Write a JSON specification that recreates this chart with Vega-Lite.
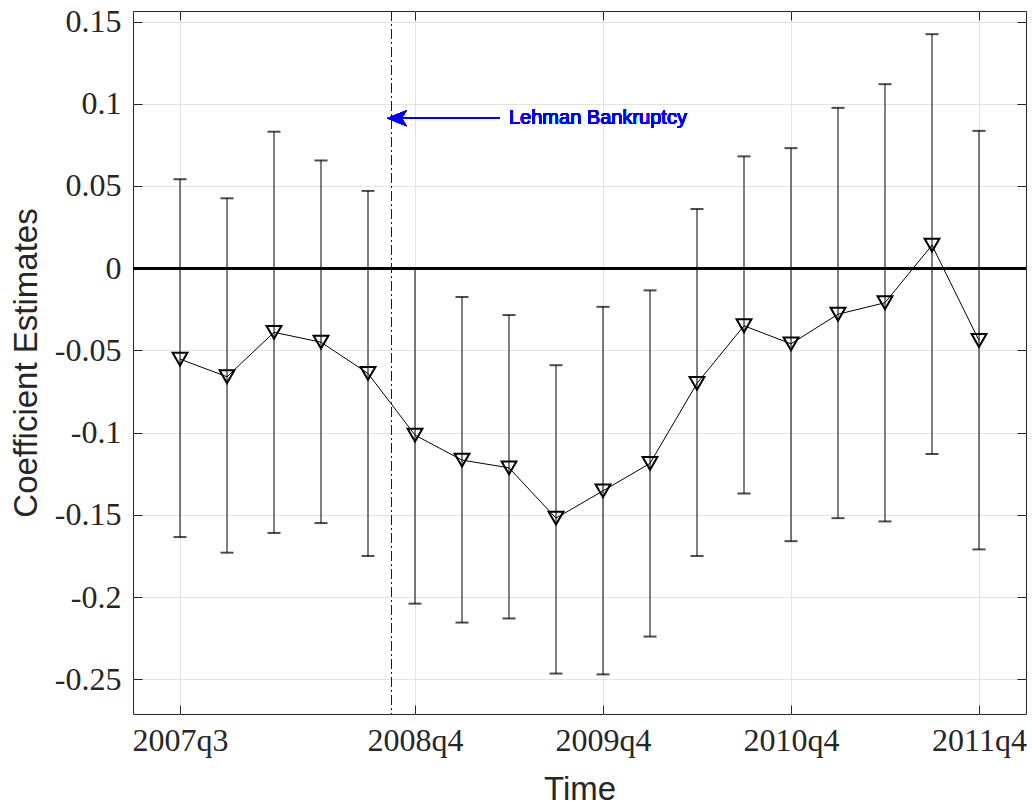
{
  "$schema": "https://vega.github.io/schema/vega-lite/v6.json",
  "autosize": {"type": "none"},
  "width": 893,
  "height": 703,
  "padding": {"left": 133, "top": 11, "right": 6, "bottom": 95},
  "background": "white",
  "config": {
    "view": {"stroke": "#262626", "strokeWidth": 1},
    "axis": {
      "domain": false,
      "tickColor": "#262626",
      "tickWidth": 1,
      "labelColor": "#262626",
      "labelFont": "Liberation Serif",
      "labelFontSize": 32,
      "titleFont": "Liberation Sans",
      "titleFontWeight": "normal",
      "titleFontSize": 33,
      "titleColor": "#262626",
      "gridColor": "#e3e3e3",
      "gridWidth": 1
    }
  },
  "data": {
    "values": [
      {"t": 0, "est": -0.0553, "lo": -0.1635, "hi": 0.0541},
      {"t": 1, "est": -0.066, "lo": -0.173, "hi": 0.0425},
      {"t": 2, "est": -0.039, "lo": -0.161, "hi": 0.083},
      {"t": 3, "est": -0.045, "lo": -0.155, "hi": 0.0655},
      {"t": 4, "est": -0.064, "lo": -0.175, "hi": 0.047},
      {"t": 5, "est": -0.1015, "lo": -0.204, "hi": 0.0},
      {"t": 6, "est": -0.1167, "lo": -0.2155, "hi": -0.0175},
      {"t": 7, "est": -0.1214, "lo": -0.213, "hi": -0.0285},
      {"t": 8, "est": -0.152, "lo": -0.2465, "hi": -0.059},
      {"t": 9, "est": -0.1354, "lo": -0.247, "hi": -0.0235},
      {"t": 10, "est": -0.1187, "lo": -0.224, "hi": -0.0135},
      {"t": 11, "est": -0.070, "lo": -0.175, "hi": 0.036},
      {"t": 12, "est": -0.035, "lo": -0.137, "hi": 0.068},
      {"t": 13, "est": -0.046, "lo": -0.166, "hi": 0.073},
      {"t": 14, "est": -0.028, "lo": -0.152, "hi": 0.0975},
      {"t": 15, "est": -0.021, "lo": -0.154, "hi": 0.1119},
      {"t": 16, "est": 0.014, "lo": -0.113, "hi": 0.1423},
      {"t": 17, "est": -0.044, "lo": -0.171, "hi": 0.0835}
    ]
  },
  "resolve": {"axis": {"x": "independent", "y": "independent"}},
  "layer": [
    {
      "mark": {"type": "rule", "color": "black", "strokeWidth": 1},
      "encoding": {
        "x": {
          "field": "t", "type": "quantitative",
          "scale": {"domain": [-1, 18], "nice": false, "zero": false},
          "axis": {
            "orient": "bottom",
            "values": [0, 5, 9, 13, 17],
            "labelExpr": "(2007 + floor((datum.value + 2) / 4)) + 'q' + ((datum.value + 2) % 4 + 1)",
            "tickSize": -9,
            "labelPadding": 20,
            "grid": true,
            "title": "Time",
            "titlePadding": 17
          }
        },
        "y": {
          "field": "lo", "type": "quantitative",
          "scale": {"domain": [-0.2711, 0.1564], "nice": false, "zero": false},
          "axis": {
            "orient": "left",
            "values": [-0.25, -0.2, -0.15, -0.1, -0.05, 0, 0.05, 0.1, 0.15],
            "labelExpr": "datum.value + ''",
            "tickSize": -9,
            "labelPadding": 21,
            "grid": true,
            "title": "Coefficient Estimates",
            "titlePadding": 11
          }
        },
        "y2": {"field": "hi"}
      }
    },
    {
      "mark": {"type": "rule", "color": "black", "strokeWidth": 2.5},
      "encoding": {
        "y": {"datum": 0, "type": "quantitative", "axis": {"orient": "right", "values": [-0.25, -0.2, -0.15, -0.1, -0.05, 0, 0.05, 0.1, 0.15], "labels": false, "grid": false, "tickSize": -9, "title": null}}
      }
    },
    {
      "mark": {"type": "rule", "color": "#0000ff", "strokeWidth": 1, "strokeDash": [10, 3, 2, 3]},
      "encoding": {
        "x": {"datum": 4.5, "type": "quantitative", "axis": {"orient": "top", "values": [0, 5, 9, 13, 17], "labels": false, "grid": false, "tickSize": -9, "title": null}}
      }
    },
    {
      "mark": {"type": "tick", "orient": "horizontal", "color": "black", "size": 13, "thickness": 2},
      "encoding": {
        "x": {"field": "t", "type": "quantitative", "axis": null},
        "y": {"field": "lo", "type": "quantitative", "axis": null}
      }
    },
    {
      "mark": {"type": "tick", "orient": "horizontal", "color": "black", "size": 13, "thickness": 2},
      "encoding": {
        "x": {"field": "t", "type": "quantitative", "axis": null},
        "y": {"field": "hi", "type": "quantitative", "axis": null}
      }
    },
    {
      "mark": {"type": "line", "color": "black", "strokeWidth": 1},
      "encoding": {
        "x": {"field": "t", "type": "quantitative", "axis": null},
        "y": {"field": "est", "type": "quantitative", "axis": null}
      }
    },
    {
      "mark": {"type": "point", "shape": "triangle-down", "filled": false, "color": "black", "strokeWidth": 2, "size": 220, "opacity": 1},
      "encoding": {
        "x": {"field": "t", "type": "quantitative", "axis": null},
        "y": {"field": "est", "type": "quantitative", "axis": null}
      }
    },
    {
      "mark": {"type": "rule", "color": "#0000ff", "strokeWidth": 1},
      "encoding": {
        "x": {"datum": 4.45, "type": "quantitative", "axis": null},
        "x2": {"datum": 6.8},
        "y": {"datum": 0.0912, "type": "quantitative", "axis": null}
      }
    },
    {
      "mark": {"type": "point", "shape": "M 0 0 L 2 -0.8 L 1.5 0 L 2 0.8 Z", "filled": true, "color": "#0000ff", "size": 400, "opacity": 1},
      "encoding": {
        "x": {"datum": 4.4, "type": "quantitative", "axis": null},
        "y": {"datum": 0.0912, "type": "quantitative", "axis": null}
      }
    },
    {
      "mark": {"type": "text", "text": "Lehman Bankruptcy", "color": "#0000ff", "font": "Liberation Sans", "fontSize": 20, "fontWeight": "normal", "align": "left", "baseline": "middle"},
      "encoding": {
        "x": {"datum": 7.0, "type": "quantitative", "axis": null},
        "y": {"datum": 0.0912, "type": "quantitative", "axis": null}
      }
    }
  ]
}
